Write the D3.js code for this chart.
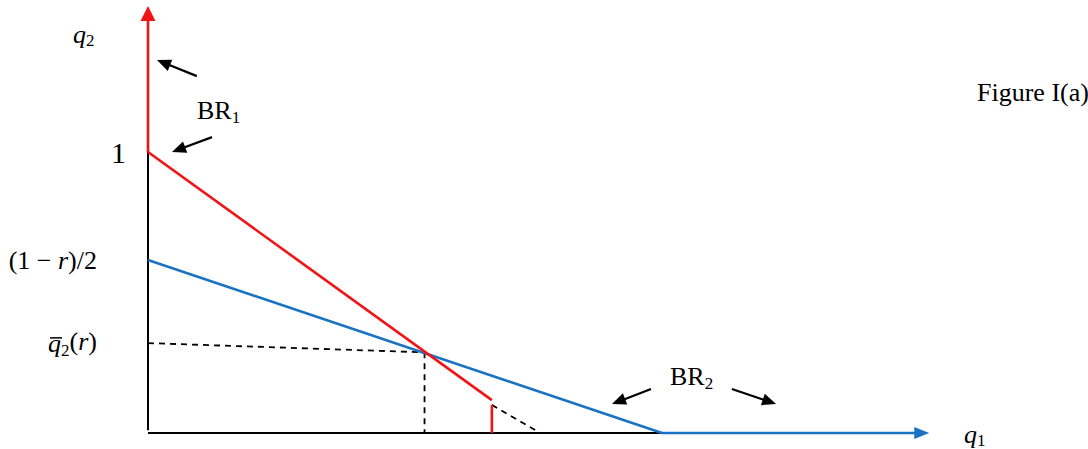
<!DOCTYPE html>
<meta charset="utf-8">
<html>
<head>
<title>Figure I(a)</title>
<script src="https://d3js.org/d3.v7.min.js"></script>
<style>
  body { margin: 0; background: #fff; }
  text { font-family: "Liberation Serif", "Times New Roman", serif; fill: #000; }
</style>
</head>
<body>
<div id="chart"></div>
<script>
// data (q1, q2) in chart units
var br1 = [[0, 1.52], [0, 1], [0.669, 0.117]];      // red best response, arrow at top
var br1Drop = [[0.669, 0.10], [0.669, 0]];
var br1Dash = [[0.669, 0.10], [0.763, 0]];
var br2 = [[0, 0.616], [1, 0], [1.52, 0]];            // blue best response, arrow at right
var eq = [0.538, 0.287];
var q2barLeft = 0.32;
var yTicks = [
  {v: 1, label: "1"},
  {v: 0.616, label: "(1 − r)/2"},
  {v: 0.32, label: "qbar"}
];
// small black pointer arrows: [tail, tip]
var pointers = [
  [[0.095, 1.27], [0.0175, 1.327]],
  [[0.1245, 1.053], [0.0467, 1.0]],
  [[0.9786, 0.1566], [0.9027, 0.1032]],
  [[1.136, 0.1566], [1.222, 0.1032]]
];

var W = 1088, H = 449;
var svg = d3.select("#chart").append("svg").attr("width", W).attr("height", H);

var x = d3.scaleLinear().domain([0, 1]).range([148, 662]);
var y = d3.scaleLinear().domain([0, 1]).range([433, 152]);
var line = d3.line().x(function (d) { return x(d[0]); }).y(function (d) { return y(d[1]); });

// arrow head polygon with tip at b, pointing from a to b
function head(a, b, len, wid) {
  var ax = x(a[0]), ay = y(a[1]), bx = x(b[0]), by = y(b[1]);
  var dx = bx - ax, dy = by - ay, L = Math.sqrt(dx * dx + dy * dy);
  var ux = dx / L, uy = dy / L;
  var cx = bx - ux * len, cy = by - uy * len;
  return [[bx, by], [cx - uy * wid / 2, cy + ux * wid / 2], [cx + uy * wid / 2, cy - ux * wid / 2]];
}
function shorten(a, b, len) {
  var ax = x(a[0]), ay = y(a[1]), bx = x(b[0]), by = y(b[1]);
  var dx = bx - ax, dy = by - ay, L = Math.sqrt(dx * dx + dy * dy);
  return [[ax, ay], [bx - dx / L * len, by - dy / L * len]];
}

// black axes
svg.append("path").attr("d", line([[0, 1], [0, 0.01]]))
  .attr("stroke", "#000").attr("stroke-width", 2).attr("fill", "none");
svg.append("path").attr("d", line([[0, 0], [1, 0]]))
  .attr("stroke", "#000").attr("stroke-width", 2).attr("fill", "none");

// dashed guides
var dash = "6,5";
function dashed(pts) {
  svg.append("path").attr("d", line(pts))
    .attr("stroke", "#000").attr("stroke-width", 1.8).attr("stroke-dasharray", dash).attr("fill", "none");
}
dashed([[0, q2barLeft], eq]);
dashed([eq, [eq[0], 0]]);
dashed(br1Dash);

// BR2 (blue)
var blue = "#1a73c2";
svg.append("path").attr("d", line(br2.slice(0, 2)))
  .attr("stroke", blue).attr("stroke-width", 2.6).attr("fill", "none");
var bEnd = shorten(br2[1], br2[2], 12);
svg.append("line").attr("x1", bEnd[0][0]).attr("y1", bEnd[0][1]).attr("x2", bEnd[1][0]).attr("y2", bEnd[1][1])
  .attr("stroke", blue).attr("stroke-width", 2.6);
svg.append("polygon").attr("points", head(br2[1], br2[2], 15, 12).join(" ")).attr("fill", blue);

// BR1 (red)
var red = "#f01414";
var rEnd = shorten(br1[1], br1[0], 12);
svg.append("line").attr("x1", rEnd[0][0]).attr("y1", rEnd[0][1]).attr("x2", rEnd[1][0]).attr("y2", rEnd[1][1])
  .attr("stroke", red).attr("stroke-width", 2.6);
svg.append("polygon").attr("points", head(br1[1], br1[0], 15, 15).join(" ")).attr("fill", red);
svg.append("path").attr("d", line(br1.slice(1)))
  .attr("stroke", red).attr("stroke-width", 2.6).attr("fill", "none");
svg.append("path").attr("d", line(br1Drop))
  .attr("stroke", red).attr("stroke-width", 2.6).attr("fill", "none");

// pointer arrows
pointers.forEach(function (p) {
  var s = shorten(p[0], p[1], 10);
  svg.append("line").attr("x1", s[0][0]).attr("y1", s[0][1]).attr("x2", s[1][0]).attr("y2", s[1][1])
    .attr("stroke", "#000").attr("stroke-width", 2.2);
  svg.append("polygon").attr("points", head(p[0], p[1], 14, 12).join(" ")).attr("fill", "#000");
});

var fs = 26, sub = 17;

// y labels
yTicks.forEach(function (t) {
  var tx = svg.append("text").attr("x", t.label === "1" ? 126 : 97).attr("y", y(t.v))
    .attr("dy", "0.35em").attr("text-anchor", "end")
    .style("font-size", (t.label === "1" ? 30 : fs) + "px");
  if (t.label === "qbar") {
    var qs = tx.append("tspan").style("font-style", "italic").text("q");
    tx.append("tspan").style("font-size", sub + "px").attr("dy", "0.2em").text("2");
    tx.append("tspan").attr("dy", "-0.2em").text("(");
    tx.append("tspan").style("font-style", "italic").text("r");
    tx.append("tspan").text(")");
    // bar over q
    var ext = tx.node().getExtentOfChar(0);
    var base = y(t.v) + 0.35 * fs;
    svg.append("line")
      .attr("x1", ext.x + 2).attr("x2", ext.x + ext.width + 1)
      .attr("y1", base - 0.55 * fs).attr("y2", base - 0.55 * fs)
      .attr("stroke", "#000").attr("stroke-width", 1.5);
  } else if (t.label === "(1 − r)/2") {
    tx.append("tspan").text("(1 − ");
    tx.append("tspan").style("font-style", "italic").text("r");
    tx.append("tspan").text(")/2");
  } else {
    tx.text(t.label);
  }
});

// axis titles
var q2 = svg.append("text").attr("x", 73).attr("y", 43).style("font-size", fs + "px");
q2.append("tspan").style("font-style", "italic").text("q");
q2.append("tspan").style("font-size", sub + "px").attr("dy", "0.2em").text("2");

var q1 = svg.append("text").attr("x", 964).attr("y", 443).style("font-size", fs + "px");
q1.append("tspan").style("font-style", "italic").text("q");
q1.append("tspan").style("font-size", sub + "px").attr("dy", "0.2em").text("1");

// BR labels
function brLabel(px, py, s) {
  var t = svg.append("text").attr("x", px).attr("y", py).style("font-size", fs + "px");
  t.append("tspan").text("BR");
  t.append("tspan").style("font-size", sub + "px").attr("dy", "0.25em").text(s);
}
brLabel(197, 119, "1");
brLabel(670, 385, "2");

svg.append("text").attr("x", 977).attr("y", 101).style("font-size", "26px").text("Figure I(a)");
</script>
</body>
</html>
